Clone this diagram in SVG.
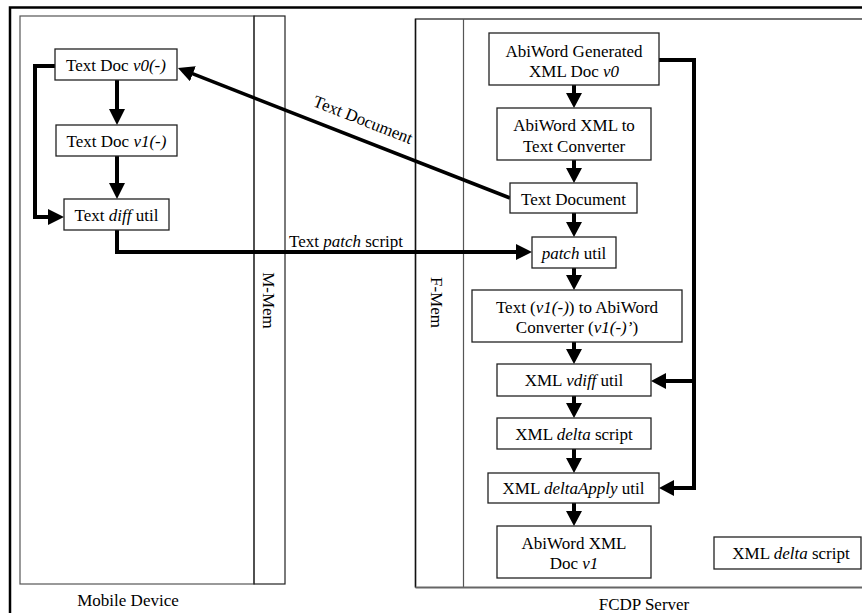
<svg xmlns="http://www.w3.org/2000/svg" width="862" height="613" viewBox="0 0 862 613" font-family="'Times New Roman', 'Liberation Serif', Tinos, serif">
<style>
text{font-family:'Times New Roman','Liberation Serif',Tinos,serif;font-size:17px;fill:#000}
.c{text-anchor:middle}
.box{fill:#fff;stroke:#222;stroke-width:1.3}
.con{fill:none;stroke:#000;stroke-width:4;stroke-linejoin:miter}
.thin{fill:none;stroke:#000;stroke-width:3.5}
</style>
<defs>
<marker id="ah" viewBox="0 0 16 16" refX="8" refY="8" markerWidth="16" markerHeight="16" markerUnits="userSpaceOnUse" orient="auto"><path d="M0,0 L16,8 L0,16 z" fill="#000"/></marker>
<marker id="as" viewBox="0 0 15 16" refX="7" refY="8" markerWidth="15" markerHeight="16" markerUnits="userSpaceOnUse" orient="auto"><path d="M0,0 L15,8 L0,16 z" fill="#000"/></marker>
</defs>
<rect width="862" height="613" fill="#fff"/>
<path d="M10,613 V7.5 H862" fill="none" stroke="#000" stroke-width="2.5"/>
<g id="mobile">
<rect x="20" y="16" width="234" height="568" fill="none" stroke="#555" stroke-width="1.2"/>
<rect x="254" y="16" width="31" height="568" fill="none" stroke="#222" stroke-width="1.2"/>
<text transform="translate(263,300.5) rotate(90)" class="c">M-Mem</text>
<text x="128" y="606" class="c">Mobile Device</text>
</g>
<g id="fcdp">
<path d="M862,19 H415.5 V587.5" fill="none" stroke="#444" stroke-width="1.5"/>
<path d="M463.5,19 V587.5" fill="none" stroke="#555" stroke-width="1.2"/>
<path d="M415.5,19 V587.5" fill="none" stroke="#111" stroke-width="1.3"/>
<path d="M415.5,587.5 H862" fill="none" stroke="#666" stroke-width="2"/>
<text transform="translate(431,302.5) rotate(90)" class="c">F-Mem</text>
<text x="644" y="610" class="c">FCDP Server</text>
</g>
<g id="connectors">
<path class="con" d="M117,80 V117" marker-end="url(#ah)"/>
<path class="con" d="M117,156 V191" marker-end="url(#ah)"/>
<path class="con" d="M55,66 H35 V217 H56" marker-end="url(#ah)"/>
<path class="con" d="M117,230 V252 H524" marker-end="url(#ah)"/>
<path class="thin" d="M510,198 L185.4,70.9" marker-end="url(#ah)"/>
<path class="con" d="M574,85 V100" marker-end="url(#as)"/>
<path class="con" d="M574,160 V175" marker-end="url(#as)"/>
<path class="con" d="M574,213 V229" marker-end="url(#as)"/>
<path class="con" d="M574,268 V282" marker-end="url(#as)"/>
<path class="con" d="M574,342 V356" marker-end="url(#as)"/>
<path class="con" d="M574,396 V410" marker-end="url(#as)"/>
<path class="con" d="M574,449 V465" marker-end="url(#as)"/>
<path class="con" d="M574,503 V518" marker-end="url(#as)"/>
<path class="con" d="M659,60 H694 V488 H667" marker-end="url(#as)"/>
<path class="con" d="M694,381 H659" marker-end="url(#as)"/>
<text x="289" y="247">Text <tspan font-style="italic">patch</tspan> script</text>
<text transform="translate(361,125) rotate(21.4)" class="c">Text Document</text>
</g>
<g id="n_v0"><rect class="box" x="55" y="49" width="122" height="31"/><text x="116" y="70.5" class="c">Text Doc <tspan font-style="italic">v0(-)</tspan></text></g>
<g id="n_v1"><rect class="box" x="56" y="125" width="121" height="31"/><text x="116.5" y="146.5" class="c">Text Doc <tspan font-style="italic">v1(-)</tspan></text></g>
<g id="n_diff"><rect class="box" x="64" y="199" width="105" height="31"/><text x="116.5" y="220.5" class="c">Text <tspan font-style="italic">diff</tspan> util</text></g>
<g id="n_gen"><rect class="box" x="489" y="33" width="170" height="52"/><text x="574" y="57" class="c">AbiWord Generated</text><text x="574" y="77" class="c">XML Doc <tspan font-style="italic">v0</tspan></text></g>
<g id="n_x2t"><rect class="box" x="497" y="108" width="154" height="52"/><text x="574" y="131" class="c">AbiWord XML to</text><text x="574" y="151.5" class="c">Text Converter</text></g>
<g id="n_textdoc"><rect class="box" x="510" y="183" width="127" height="30"/><text x="573.5" y="205" class="c">Text Document</text></g>
<g id="n_patch"><rect class="box" x="532" y="237" width="84" height="31"/><text x="574" y="259" class="c"><tspan font-style="italic">patch</tspan> util</text></g>
<g id="n_t2a"><rect class="box" x="472" y="290" width="210" height="52"/><text x="577" y="312.5" class="c">Text (<tspan font-style="italic">v1(-)</tspan>) to AbiWord</text><text x="577" y="333" class="c">Converter (<tspan font-style="italic">v1(-)’</tspan>)</text></g>
<g id="n_vdiff"><rect class="box" x="497" y="364" width="154" height="32"/><text x="574" y="386" class="c">XML <tspan font-style="italic">vdiff</tspan> util</text></g>
<g id="n_delta"><rect class="box" x="497" y="418" width="154" height="31"/><text x="574" y="439.5" class="c">XML <tspan font-style="italic">delta</tspan> script</text></g>
<g id="n_apply"><rect class="box" x="488" y="473" width="171" height="30"/><text x="573.5" y="494" class="c">XML <tspan font-style="italic">deltaApply</tspan> util</text></g>
<g id="n_v1x"><rect class="box" x="497" y="526" width="154" height="52"/><text x="574" y="549" class="c">AbiWord XML</text><text x="574" y="569" class="c">Doc <tspan font-style="italic">v1</tspan></text></g>
<g id="n_delta2"><rect class="box" x="714" y="537" width="147" height="32"/><text x="791" y="559" class="c">XML <tspan font-style="italic">delta</tspan> script</text></g>
</svg>
